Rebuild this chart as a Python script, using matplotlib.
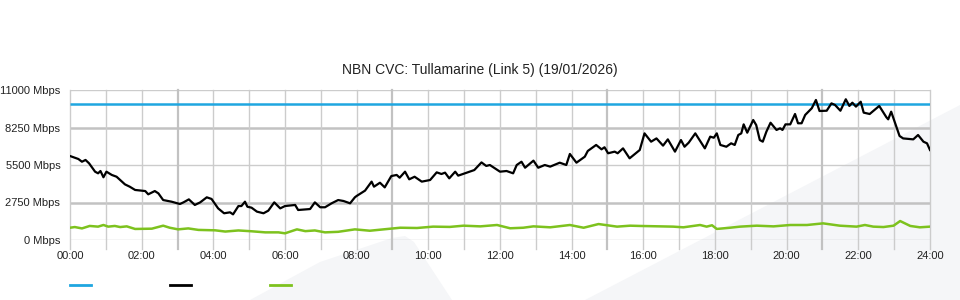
import numpy as np
import matplotlib
matplotlib.use("Agg")
import matplotlib.pyplot as plt
from matplotlib.patches import Polygon
from matplotlib.lines import Line2D

plt.rcParams['font.family'] = ['Liberation Sans', 'DejaVu Sans']

title = "NBN CVC: Tullamarine (Link 5) (19/01/2026)"

# y axis ticks
y_ticks = [0, 2750, 5500, 8250, 11000]
y_labels = ["0 Mbps", "2750 Mbps", "5500 Mbps", "8250 Mbps", "11000 Mbps"]
x_ticks = [0, 2, 4, 6, 8, 10, 12, 14, 16, 18, 20, 22, 24]
x_labels = ["00:00", "02:00", "04:00", "06:00", "08:00", "10:00", "12:00",
            "14:00", "16:00", "18:00", "20:00", "22:00", "24:00"]

# capacity (blue)
capacity_min = [0, 1440]
capacity_mbps = [10000, 10000]

# traffic (black), minutes past midnight
traffic_min = [0, 14, 20, 26, 32, 42, 47, 51, 56, 61, 70, 78, 92, 100, 109, 126, 131,
               142, 148, 156, 170, 184, 190, 199, 209, 218, 229, 237, 248, 258, 268,
               273, 282, 287, 293, 297, 304, 313, 324, 332, 342, 352, 360, 377, 382,
               402, 410, 419, 427, 438, 449, 458, 469, 477, 480, 494, 505, 509, 519,
               527, 538, 547, 552, 561, 568, 577, 589, 603, 614, 622, 628, 635, 645,
               650, 661, 677, 689, 697, 703, 720, 731, 742, 748, 756, 762, 776, 784,
               795, 804, 820, 831, 837, 848, 862, 867, 881, 890, 895, 901, 912, 917,
               926, 937, 954, 962, 973, 982, 993, 1001, 1013, 1023, 1029, 1036, 1047,
               1063, 1072, 1078, 1083, 1089, 1099, 1107, 1113, 1119, 1124, 1128, 1134,
               1144, 1149, 1155, 1160, 1166, 1173, 1183, 1189, 1193, 1198, 1206, 1214,
               1219, 1225, 1231, 1242, 1249, 1255, 1267, 1275, 1281, 1290, 1299, 1305,
               1310, 1316, 1324, 1329, 1339, 1355, 1367, 1370, 1375, 1389, 1395, 1412,
               1420, 1429, 1435, 1440]
traffic_mbps = [6160, 5940, 5740, 5870, 5620, 5010, 4890, 5060, 4600, 5010, 4770, 4640,
                4080, 3910, 3670, 3590, 3350, 3590, 3420, 2930, 2810, 2640, 2760, 2980,
                2570, 2760, 3130, 3010, 2320, 1960, 2030, 1880, 2490, 2490, 2810, 2440,
                2370, 2080, 1960, 2150, 2760, 2320, 2490, 2570, 2200, 2270, 2760, 2400,
                2400, 2690, 2930, 2860, 2690, 3130, 3230, 3620, 4280, 3910, 4200, 3860,
                4690, 4770, 4570, 5010, 4450, 4640, 4280, 4400, 4960, 4840, 4940, 4520,
                5010, 4720, 4890, 5130, 5690, 5430, 5500, 5010, 5060, 4890, 5500, 5740,
                5300, 5820, 5300, 5500, 5380, 5670, 5500, 6310, 5670, 6110, 6530, 6970,
                6650, 6800, 6360, 6480, 6360, 6720, 5990, 6600, 7820, 7210, 7450, 6920,
                7380, 6480, 7330, 6840, 7140, 7820, 6720, 7580, 7500, 7820, 6970, 6840,
                7090, 6970, 7700, 7820, 8480, 7870, 8800, 8430, 7330, 7210, 7940, 8600,
                8070, 8190, 8070, 8480, 8480, 9240, 8560, 8560, 9170, 9660, 10270, 9460,
                9480, 10020, 9900, 9480, 10320, 9830, 10070, 9780, 10140, 9340, 9240,
                9830, 9000, 8850, 9410, 7630, 7450, 7380, 7700, 7210, 7090, 6600]

# upload (green)
upload_min = [0, 8, 20, 33, 47, 56, 64, 75, 84, 95, 109, 137, 156, 167, 181, 198, 215,
              243, 260, 282, 304, 327, 349, 360, 380, 394, 410, 427, 449, 477, 502, 525,
              553, 581, 608, 636, 659, 687, 715, 737, 759, 776, 804, 837, 860, 885, 916,
              938, 954, 988, 1010, 1027, 1055, 1066, 1075, 1083, 1105, 1122, 1150, 1178,
              1206, 1234, 1261, 1289, 1317, 1331, 1345, 1362, 1379, 1390, 1407, 1423, 1440]
upload_mbps = [900, 950, 850, 1030, 980, 1100, 980, 1030, 950, 1000, 810, 830, 1050, 900,
               780, 850, 740, 710, 620, 700, 640, 560, 560, 490, 780, 650, 700, 560, 600,
               780, 680, 780, 900, 880, 980, 960, 1050, 1000, 1100, 860, 900, 1000, 930,
               1100, 900, 1170, 980, 1050, 1030, 1000, 980, 930, 1100, 980, 1080, 810, 900,
               980, 1050, 1000, 1100, 1100, 1220, 1050, 980, 1100, 980, 950, 1050, 1390,
               1030, 930, 980]

blue = "#1fa6e0"
green = "#7dc21e"
grid_light = "#cccccc"
grid_dark = "#c2c2c2"
wm = "#f5f6f8"

fig = plt.figure(figsize=(9.6, 3), dpi=100)
W, H = 960.0, 300.0

# faint background watermark shapes (figure pixel coords, y from top)
def px(pts):
    return [(x / W, 1 - y / H) for x, y in pts]

fig.patches.append(Polygon(px([(250, 300), (320, 262), (392, 238), (405, 236), (414, 242),
                               (452, 300)]), closed=True, transform=fig.transFigure,
                           facecolor=wm, edgecolor="none", zorder=-5))
fig.patches.append(Polygon(px([(585, 300), (960, 105), (960, 300)]), closed=True,
                           transform=fig.transFigure, facecolor=wm, edgecolor="none", zorder=-5))

ax = fig.add_axes([70 / W, 1 - 240 / H, 860 / W, 150 / H])
ax.set_facecolor("none")
ax.set_zorder(1)
ax.set_xlim(0, 24)
ax.set_ylim(0, 11000)
for s in ax.spines.values():
    s.set_visible(False)

# horizontal grid
for v in y_ticks:
    dark = v in (2750, 8250)
    ax.axhline(v, color=grid_dark if dark else grid_light, lw=1.8 if dark else 1, zorder=1)

# vertical grid every hour, extending a little below the plot
for h in range(25):
    dark = h % 6 == 3
    ax.axvline(h, ymin=-0.06, ymax=1, color=grid_dark if dark else grid_light,
               lw=1.6 if dark else 1, clip_on=False, zorder=1)

ax.set_yticks(y_ticks)
ax.set_yticklabels(y_labels)
ax.set_xticks(x_ticks)
ax.set_xticklabels(x_labels)
ax.tick_params(axis="y", length=0, pad=7, labelsize=8, labelcolor="#222222")
ax.tick_params(axis="x", length=0, pad=8, labelsize=8, labelcolor="#222222")

h_cap = np.array(capacity_min) / 60.0
h_tr = np.array(traffic_min) / 60.0
h_up = np.array(upload_min) / 60.0
ax.plot(h_cap, capacity_mbps, color=blue, lw=1.8, zorder=3, solid_capstyle="butt")
ax.plot(h_up, upload_mbps, color=green, lw=1.8, zorder=3)
ax.plot(h_tr, traffic_mbps, color="black", lw=1.6, zorder=4)

fig.text(0.5, 1 - 70 / H, title, ha="center", va="center", fontsize=10, color="#222222")

# legend swatches (labels are empty in the source)
for x0, c in [(70, blue), (170, "black"), (270, green)]:
    fig.add_artist(Line2D([x0 / W, (x0 + 21) / W], [1 - 285 / H, 1 - 285 / H],
                          color=c, lw=2, transform=fig.transFigure))

fig.savefig("out.png", dpi=100)
